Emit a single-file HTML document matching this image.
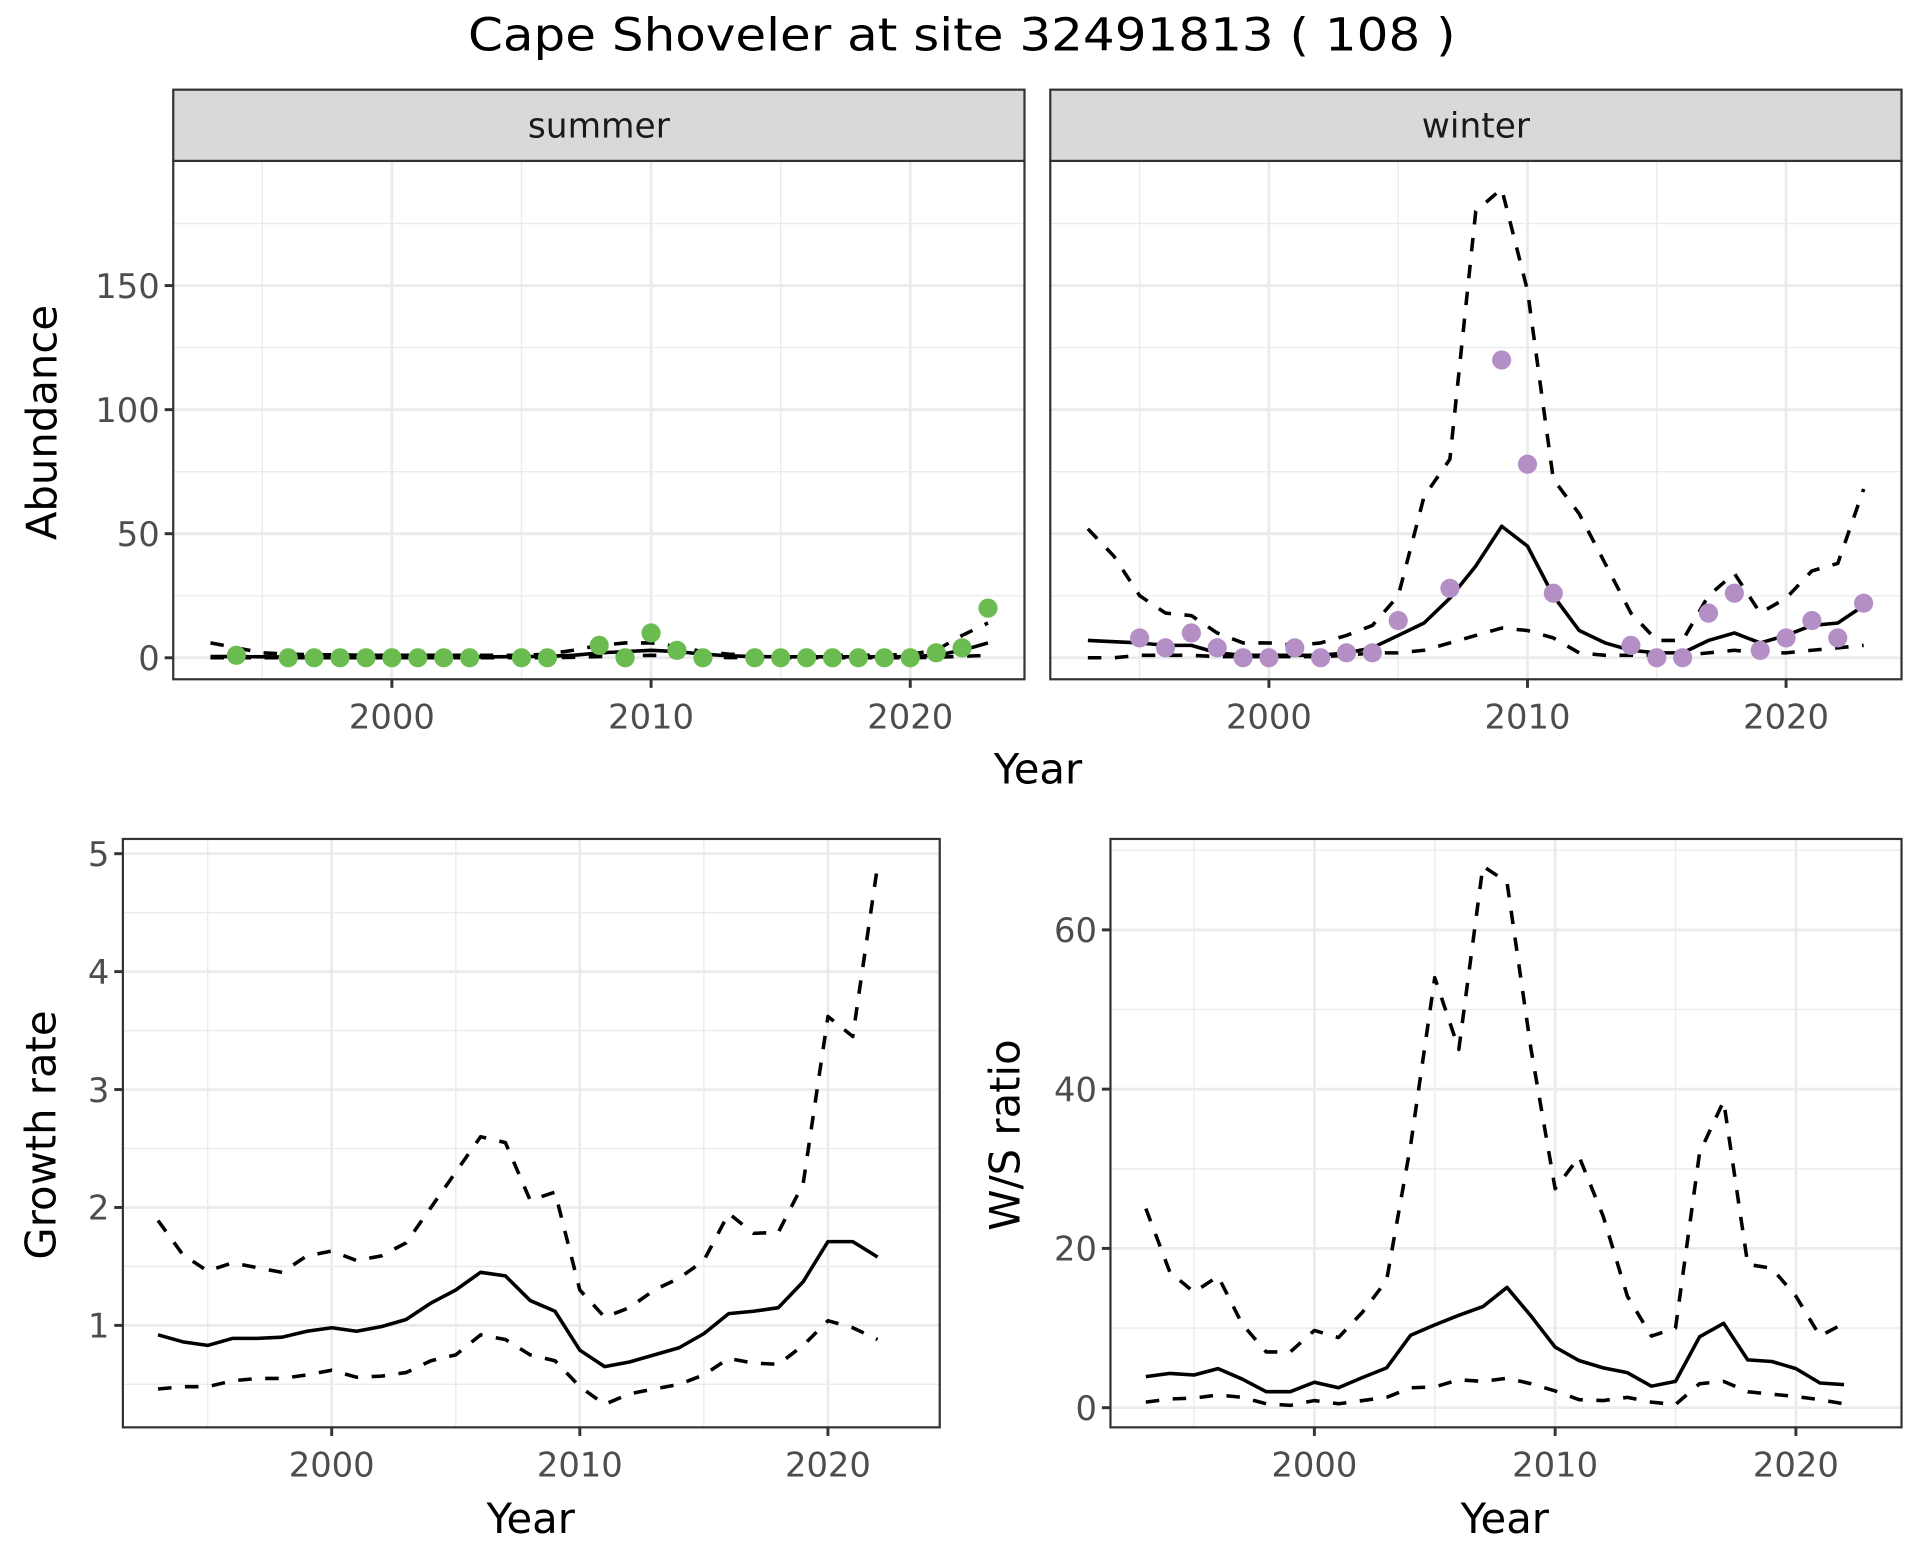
<!DOCTYPE html>
<html><head><meta charset="utf-8">
<style>
html,body{margin:0;padding:0;background:#fff;}
svg{display:block;font-family:"DejaVu Sans","Liberation Sans",sans-serif;}
</style></head>
<body>
<svg id="chart" width="1920" height="1560" viewBox="0 0 1563 1270" xmlns="http://www.w3.org/2000/svg">
<rect width="1563" height="1270" fill="#fff"/>
<text x="783" y="41" font-size="37" text-anchor="middle" textLength="804" lengthAdjust="spacingAndGlyphs" fill="#000">Cape Shoveler at site 32491813 ( 108 )</text>
<g id="root"></g>
</svg>
<script>
// ---- data ----
const summerPtYears = [1994,1996,1997,1998,1999,2000,2001,2002,2003,2005,2006,2008,2009,2010,2011,2012,2014,2015,2016,2017,2018,2019,2020,2021,2022,2023];
const summerPtVals  = [1,0,0,0,0,0,0,0,0,0,0,5,0,10,3,0,0,0,0,0,0,0,0,2,4,20];
const abYears = [1993,1994,1995,1996,1997,1998,1999,2000,2001,2002,2003,2004,2005,2006,2007,2008,2009,2010,2011,2012,2013,2014,2015,2016,2017,2018,2019,2020,2021,2022,2023];
const summerMean  = [0.5,0.5,0.4,0.3,0.3,0.3,0.3,0.3,0.3,0.3,0.3,0.4,0.5,0.6,1,2,2.5,3,2.5,1.5,0.8,0.5,0.4,0.4,0.4,0.4,0.4,0.5,1,3,6];
const summerUpper = [6,4,2,1.5,1.2,1.2,1,1,1,1,1,1,1,1.5,3,5,6,6,4.5,2.5,1.5,1,1,1,1,1,1,1.5,3,9,14];
const summerLower = [0,0,0,0,0,0,0,0,0,0,0,0,0,0,0.2,0.5,0.8,1,0.8,0.3,0.1,0,0,0,0,0,0,0,0.2,0.6,1];
const winterPtYears = [1995,1996,1997,1998,1999,2000,2001,2002,2003,2004,2005,2007,2009,2010,2011,2014,2015,2016,2017,2018,2019,2020,2021,2022,2023];
const winterPtVals  = [8,4,10,4,0,0,4,0,2,2,15,28,120,78,26,5,0,0,18,26,3,8,15,8,22];
const winterMean  = [7,6.5,6,5,5,2,1,1,1,1,2,4,9,14,24,37,53,45,25,11,6,3,2,2,7,10,6,9,13,14,21];
const winterUpper = [52,41,25,18,17,10,6,6,5,6,9,13,25,65,80,180,189,148,72,58,38,18,7,7,25,34,18,24,35,38,68];
const winterLower = [0,0,1,1,1,0.5,0.5,0.5,0.5,0.5,1,2,2,3,6,9,12,11,8,2,1,1,1,1,2,3,2,2,3,4,5];
const grYears = [1993,1994,1995,1996,1997,1998,1999,2000,2001,2002,2003,2004,2005,2006,2007,2008,2009,2010,2011,2012,2013,2014,2015,2016,2017,2018,2019,2020,2021,2022];
const grMean  = [0.92,0.86,0.83,0.89,0.89,0.9,0.95,0.98,0.95,0.99,1.05,1.19,1.3,1.45,1.42,1.21,1.12,0.79,0.65,0.69,0.75,0.81,0.93,1.1,1.12,1.15,1.37,1.71,1.71,1.58];
const grUpper = [1.89,1.6,1.46,1.53,1.49,1.45,1.59,1.63,1.55,1.59,1.7,2.0,2.3,2.6,2.55,2.06,2.13,1.3,1.07,1.15,1.3,1.4,1.55,1.95,1.78,1.79,2.2,3.62,3.45,4.9];
const grLower = [0.46,0.48,0.48,0.53,0.55,0.55,0.58,0.62,0.56,0.57,0.6,0.7,0.75,0.92,0.88,0.75,0.7,0.48,0.33,0.42,0.46,0.5,0.58,0.72,0.68,0.67,0.83,1.04,0.98,0.88];
const wsMean  = [3.9,4.3,4.1,4.9,3.6,2.0,2.0,3.2,2.5,3.8,5.0,9.1,10.4,11.6,12.7,15.1,11.5,7.6,5.9,5.0,4.4,2.7,3.3,8.9,10.6,6.0,5.8,4.9,3.1,2.9];
const wsUpper = [25,17,14.5,16.5,10.5,7,7,9.7,8.8,12,16,33,54,45,68,66,45,27.5,31.5,24,14,9,10,32,38.5,18,17.5,14,9,10.6];
const wsLower = [0.7,1.1,1.2,1.6,1.3,0.5,0.3,0.9,0.5,0.9,1.3,2.5,2.6,3.5,3.3,3.7,3.0,2.1,1.0,0.9,1.3,0.7,0.4,3.0,3.3,2.0,1.7,1.4,1.0,0.5];
const xTicks = [2000,2010,2020];
const xMinor = [1995,2005,2015];
const abTicks = [0,50,100,150];
const abMinor = [25,75,125,175];
const grTicks = [1,2,3,4,5];
const grMinor = [0.5,1.5,2.5,3.5,4.5];
const wsTicks = [0,20,40,60];
const wsMinor = [10,30,50,70];

const NS="http://www.w3.org/2000/svg";
const root=document.getElementById('root');
function el(tag,attrs,parent){const e=document.createElementNS(NS,tag);for(const k in attrs)e.setAttribute(k,attrs[k]);(parent||root).appendChild(e);return e;}
function lin(d0,r0,d1,r1){return v=>r0+(v-d0)*(r1-r0)/(d1-d0);}

let clipId=0;
function panel(cfg){
  const g=el('g',{});
  
  
  const {L,R,T,B,xs,ys}=cfg;
  const cid='clip'+(clipId++);
  const cp=el('clipPath',{id:cid},g);
  el('rect',{x:L,y:T,width:R-L,height:B-T},cp);
  cfg.yMinor.forEach(v=>{const y=ys(v);if(y>T&&y<B){const l=el('line',{x1:L,x2:R,y1:y,y2:y,stroke:'#ebebeb','stroke-width':1.1},g);}});
  xMinor.forEach(v=>{const x=xs(v);const l=el('line',{x1:x,x2:x,y1:T,y2:B,stroke:'#ebebeb','stroke-width':1.1},g);});
  cfg.yTicks.forEach(v=>{const y=ys(v);if(y>=T&&y<=B){const l=el('line',{x1:L,x2:R,y1:y,y2:y,stroke:'#ebebeb','stroke-width':2.2},g);}});
  xTicks.forEach(v=>{const x=xs(v);const l=el('line',{x1:x,x2:x,y1:T,y2:B,stroke:'#ebebeb','stroke-width':2.2},g);});
  const dg=el('g',{'clip-path':'url(#'+cid+')'},g);
  cfg.lines.forEach(s=>{
    const pts=s.y.map((v,i)=>xs(s.x[i]).toFixed(1)+','+ys(v).toFixed(1)).join(' ');
    const p=el('polyline',{points:pts,fill:'none',stroke:'#000','stroke-width':2.9,'stroke-dasharray':s.dash?'11,11':'none','stroke-linejoin':'round'},dg);
    
    
  });
  if(cfg.pts){cfg.pts.y.forEach((v,i)=>{
    const c=el('circle',{cx:xs(cfg.pts.x[i]),cy:ys(v),r:7.8,fill:cfg.pts.color},dg);
    
    
  });}
  el('rect',{x:L,y:T,width:R-L,height:B-T,fill:'none',stroke:'#333','stroke-width':1.8},g);
  xTicks.forEach(v=>{const x=xs(v);
    el('line',{x1:x,x2:x,y1:B,y2:B+7,stroke:'#333','stroke-width':2.4},g);
    const t=el('text',{x:x,y:B+40,'font-size':27.5,'text-anchor':'middle',fill:'#4d4d4d'},g);t.textContent=v;
    });
  if(cfg.showY){cfg.yTicks.forEach(v=>{const y=ys(v);if(y<T-2||y>B)return;
    el('line',{x1:L-7,x2:L,y1:y,y2:y,stroke:'#333','stroke-width':2.4},g);
    const t=el('text',{x:L-11,y:y+10,'font-size':27.5,'text-anchor':'end',fill:'#4d4d4d'},g);t.textContent=v;
    });}
  if(cfg.strip){
    const r=el('rect',{x:L,y:T-58,width:R-L,height:58,fill:'#d9d9d9',stroke:'#333','stroke-width':1.8},g);
    
    const t=el('text',{x:(L+R)/2,y:T-19,'font-size':28,'text-anchor':'middle',fill:'#1a1a1a'},g);t.textContent=cfg.strip;
    
  }
}
function axisTitle(txt,x,y,rot,name){
  const t=el('text',{x:x,y:y,'font-size':34,'text-anchor':'middle',fill:'#000',transform:rot?`rotate(-90 ${x} ${y})`:''});
  t.textContent=txt;
  
  
}

const abY=lin(0,535.5,150,232.5);
panel({name:'summer-panel',L:141,R:834,T:131,B:553,xs:lin(2000,319,2020,741),ys:abY,yTicks:abTicks,yMinor:abMinor,showY:true,strip:'summer',
  lines:[{x:abYears,y:summerUpper,dash:true,name:'summer-upper-ci'},{x:abYears,y:summerLower,dash:true,name:'summer-lower-ci'},{x:abYears,y:summerMean,dash:false,name:'summer-mean'}],
  pts:{x:summerPtYears,y:summerPtVals,color:'#6abb50'}});
panel({name:'winter-panel',L:855,R:1548,T:131,B:553,xs:lin(2000,1033,2020,1454),ys:abY,yTicks:abTicks,yMinor:abMinor,showY:false,strip:'winter',
  lines:[{x:abYears,y:winterUpper,dash:true,name:'winter-upper-ci'},{x:abYears,y:winterLower,dash:true,name:'winter-lower-ci'},{x:abYears,y:winterMean,dash:false,name:'winter-mean'}],
  pts:{x:winterPtYears,y:winterPtVals,color:'#b48fc6'}});
panel({name:'growth-rate-panel',L:100,R:765,T:683,B:1162,xs:lin(2000,270,2020,674),ys:lin(1,1079,5,695),yTicks:grTicks,yMinor:grMinor,showY:true,
  lines:[{x:grYears,y:grUpper,dash:true,name:'growth-upper-ci'},{x:grYears,y:grLower,dash:true,name:'growth-lower-ci'},{x:grYears,y:grMean,dash:false,name:'growth-mean'}]});
panel({name:'ws-ratio-panel',L:904,R:1548,T:683,B:1162,xs:lin(2000,1070,2020,1462),ys:lin(0,1146,60,757),yTicks:wsTicks,yMinor:wsMinor,showY:true,
  lines:[{x:grYears,y:wsUpper,dash:true,name:'ws-upper-ci'},{x:grYears,y:wsLower,dash:true,name:'ws-lower-ci'},{x:grYears,y:wsMean,dash:false,name:'ws-mean'}]});

axisTitle('Abundance',46,344,true,'y-axis-title-abundance');
axisTitle('Year',845,638,false,'x-axis-title-top');
axisTitle('Growth rate',45,924,true,'y-axis-title-growth');
axisTitle('Year',432,1248,false,'x-axis-title-growth');
axisTitle('W/S ratio',830,924,true,'y-axis-title-ws');
axisTitle('Year',1225,1248,false,'x-axis-title-ws');
</script>
</body></html>
